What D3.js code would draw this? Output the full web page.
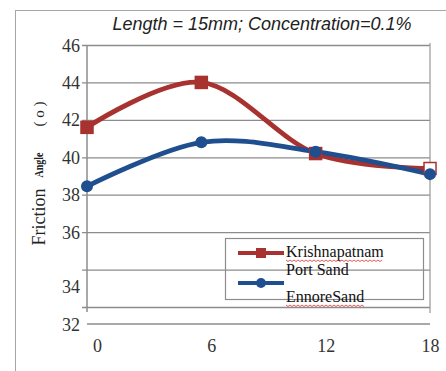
<!DOCTYPE html>
<html>
<head>
<meta charset="utf-8">
<script src="https://cdn.jsdelivr.net/npm/d3@7"></script>
<style>
  body { margin: 0; background: #fff; }
  svg { display: block; }
</style>
</head>
<body>
<div id="chart"></div>
<script>
var lengths = [0, 6, 12, 18];
var krishnapatnam = [41.6, 44.0, 40.2, 39.4];
var ennore = [38.45, 40.8, 40.3, 39.1];
var yTicks = [32, 34, 36, 38, 40, 42, 44, 46];
var seriesNames = ["Krishnapatnam", "EnnoreSand"];

var W = 446, H = 371;
var plot = { left: 87, right: 430, top: 45, bottom: 307 };

var svg = d3.select("#chart").append("svg")
    .attr("width", W)
    .attr("height", H);

svg.append("rect").attr("width", W).attr("height", H).attr("fill", "#fff");

// outer chart frame
svg.append("rect")
    .attr("x", 15.5).attr("y", 10.5)
    .attr("width", 440).attr("height", 380)
    .attr("fill", "none")
    .attr("stroke", "#a6a6a6");

var x = d3.scaleLinear().domain([0, 18]).range([plot.left, plot.right]);
var y = d3.scaleLinear().domain([32, 46]).range([plot.bottom, plot.top]);

// grid + y axis
var yAxis = svg.append("g")
    .attr("transform", "translate(" + plot.left + ",0)")
    .call(d3.axisLeft(y).tickValues(yTicks).tickSize(-(plot.right - plot.left)).tickSizeOuter(0));
yAxis.select(".domain").remove();
yAxis.selectAll(".tick line")
    .attr("x1", -5)
    .attr("stroke", "#8c8c8c")
    .attr("stroke-width", 1.3);
yAxis.selectAll(".tick text")
    .attr("x", -7)
    .attr("dy", function(d) { return d <= 34 ? 23 : 6; })
    .style("font-family", "'Liberation Serif', 'Times New Roman', serif")
    .style("font-size", "18px")
    .attr("fill", "#333");

// vertical axis line and right border
svg.append("line")
    .attr("x1", plot.left).attr("x2", plot.left)
    .attr("y1", plot.top).attr("y2", plot.bottom + 5)
    .attr("stroke", "#8c8c8c").attr("stroke-width", 1.5);
svg.append("line")
    .attr("x1", plot.right).attr("x2", plot.right)
    .attr("y1", plot.top - 2).attr("y2", plot.bottom + 6)
    .attr("stroke", "#a0a0a0").attr("stroke-width", 1.3);
// the pasted baseline under "32"
svg.append("line")
    .attr("x1", plot.left).attr("x2", plot.right)
    .attr("y1", y(32) + 17).attr("y2", y(32) + 17)
    .attr("stroke", "#8c8c8c").attr("stroke-width", 1.3);

// x axis labels
var xAxis = svg.append("g")
    .attr("transform", "translate(0," + (plot.bottom + 29) + ")")
    .call(d3.axisBottom(x).tickValues(lengths).tickSize(0).tickFormat(d3.format("d")));
xAxis.select(".domain").remove();
xAxis.selectAll(".tick text")
    .attr("dx", function(d) { return d === 18 ? 0 : 10; })
    .style("font-family", "'Liberation Serif', 'Times New Roman', serif")
    .style("font-size", "18px")
    .attr("fill", "#333");

// title
svg.append("text")
    .attr("x", 262).attr("y", 30)
    .attr("text-anchor", "middle")
    .style("font-family", "'Liberation Sans', Arial, sans-serif")
    .style("font-style", "italic")
    .style("font-size", "18px")
    .attr("fill", "#222")
    .text("Length = 15mm; Concentration=0.1%");

// y axis title pieces
function vtext(cx, cy, txt, size, extra) {
  var t = svg.append("text")
      .attr("transform", "translate(" + cx + "," + cy + ") rotate(-90)")
      .attr("text-anchor", "middle")
      .attr("dominant-baseline", "central")
      .style("font-family", "'Liberation Serif', 'Times New Roman', serif")
      .style("font-size", size + "px")
      .attr("fill", "#222")
      .text(txt);
  if (extra) extra(t);
  return t;
}
vtext(39, 217, "Friction", 18);
vtext(39, 165, "Angle", 12, function(t) {
  t.style("font-weight", "bold").attr("textLength", 25).attr("lengthAdjust", "spacingAndGlyphs");
});
vtext(39, 114, "( o )", 15);

// lines
var red = "#a8322f", blue = "#1f4f8f";
var line = d3.line()
    .x(function(d, i) { return x(lengths[i]); })
    .y(function(d) { return y(d); })
    .curve(d3.curveCardinal.tension(0));

svg.append("path").datum(krishnapatnam)
    .attr("d", line).attr("fill", "none")
    .attr("stroke", red).attr("stroke-width", 4.8);
svg.append("path").datum(ennore)
    .attr("d", line).attr("fill", "none")
    .attr("stroke", blue).attr("stroke-width", 4.8);

svg.selectAll(".sq").data(krishnapatnam).enter().append("rect")
    .attr("x", function(d, i) { return x(lengths[i]) - 6; })
    .attr("y", function(d) { return y(d) - 6; })
    .attr("width", 12).attr("height", 12)
    .attr("fill", function(d, i) { return i === lengths.length - 1 ? "#fff" : red; })
    .attr("stroke", red).attr("stroke-width", 1.5);

svg.selectAll(".dot").data(ennore).enter().append("circle")
    .attr("cx", function(d, i) { return x(lengths[i]); })
    .attr("cy", function(d) { return y(d); })
    .attr("r", 6)
    .attr("fill", blue);

// legend
var lg = svg.append("g");
lg.append("rect")
    .attr("x", 225.5).attr("y", 238.5)
    .attr("width", 198).attr("height", 61)
    .attr("fill", "none")
    .attr("stroke", "#8c8c8c").attr("stroke-width", 1.2);

var legendRows = [
  { name: seriesNames[0], color: red, y: 253 },
  { name: seriesNames[1], color: blue, y: 283 }
];
legendRows.forEach(function(r, i) {
  lg.append("line")
      .attr("x1", 238).attr("x2", 284)
      .attr("y1", r.y).attr("y2", r.y)
      .attr("stroke", r.color).attr("stroke-width", 4);
  if (i === 0) {
    lg.append("rect").attr("x", 256).attr("y", r.y - 5).attr("width", 10).attr("height", 10).attr("fill", r.color);
  } else {
    lg.append("circle").attr("cx", 261).attr("cy", r.y).attr("r", 5).attr("fill", r.color);
  }
});

function legendText(xp, yp, txt, squiggle) {
  var t = lg.append("text")
      .attr("x", xp).attr("y", yp)
      .style("font-family", "'Liberation Serif', 'Times New Roman', serif")
      .style("font-size", "16px")
      .attr("fill", "#111")
      .text(txt);
  if (squiggle) {
    var w = t.node().getComputedTextLength();
    var pts = [];
    for (var k = 0; k <= w; k += 2) pts.push([xp + k, yp + 3 + (k % 4 === 0 ? 0 : 1.5)]);
    lg.append("path")
        .attr("d", d3.line()(pts))
        .attr("fill", "none")
        .attr("stroke", "#e03030").attr("stroke-width", 0.8);
  }
}
legendText(286, 257, "Krishnapatnam", true);
legendText(286, 275, "Port Sand", false);
legendText(286, 302, seriesNames[1], true);
</script>
</body>
</html>
